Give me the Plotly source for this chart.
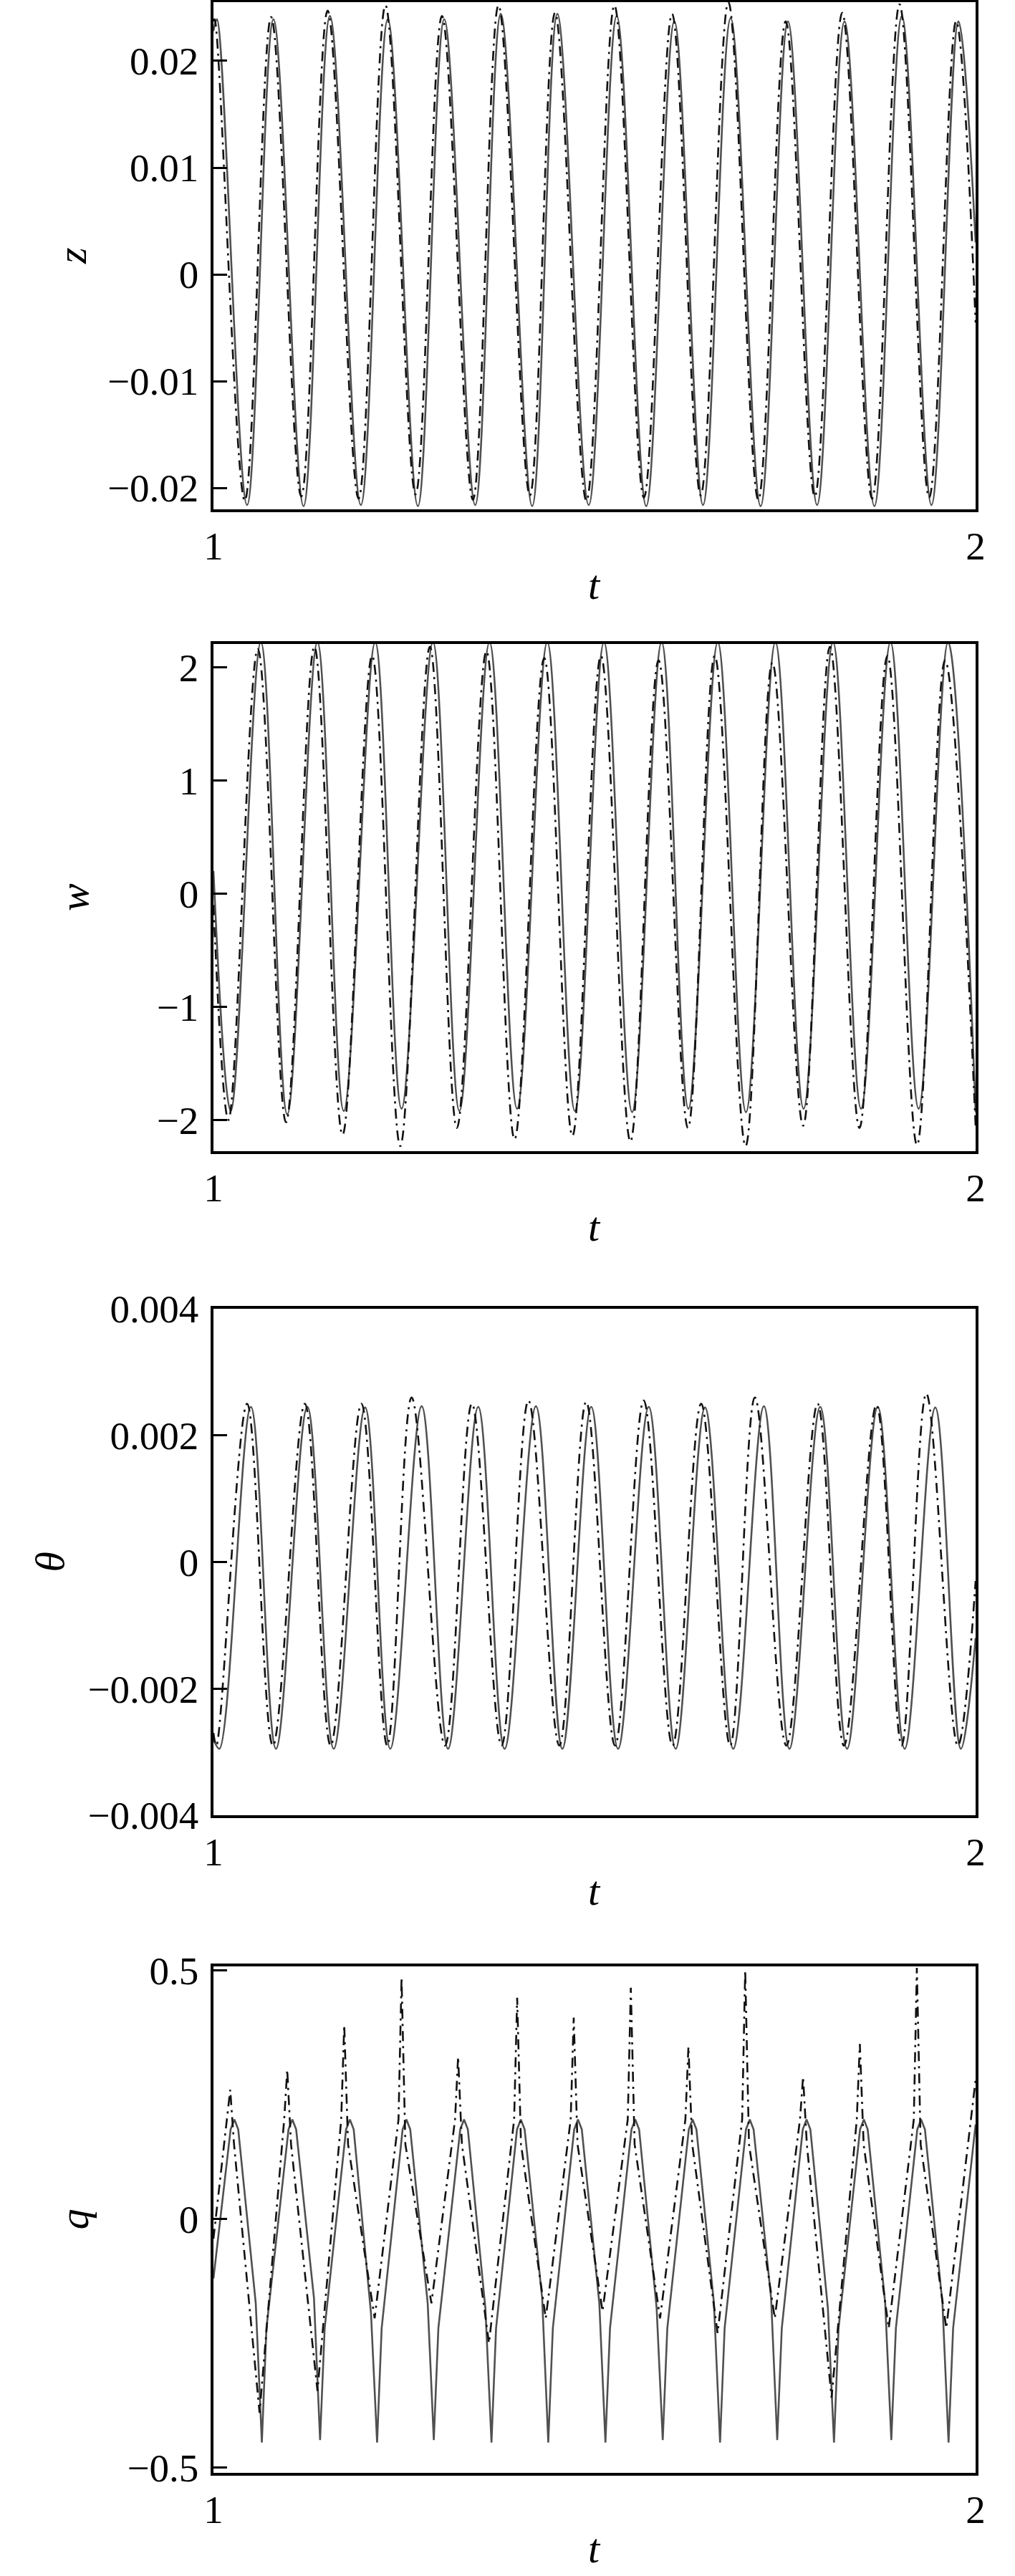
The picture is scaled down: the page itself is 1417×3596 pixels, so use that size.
import plotly.graph_objects as go

# ---------------- data ----------------
# panel 1 : z
z_solid_t = [1.0, 1.0045, 1.0441, 1.0787, 1.1182, 1.1528, 1.1934, 1.2287, 1.2682, 1.3028,
             1.3434, 1.3770, 1.4182, 1.4512, 1.4924, 1.5291, 1.5678, 1.6047, 1.6423, 1.6786,
             1.7179, 1.7538, 1.7920, 1.8280, 1.8672, 1.9032, 1.9421, 1.9774, 2.0]
z_solid = [0.0228, 0.0239, -0.0216, 0.0239, -0.0217, 0.0242, -0.0216, 0.0239, -0.0217, 0.0239,
           -0.0216, 0.0244, -0.0217, 0.0244, -0.0216, 0.0242, -0.0217, 0.0237, -0.0216, 0.0240,
           -0.0217, 0.0237, -0.0216, 0.0237, -0.0217, 0.0242, -0.0216, 0.0237, 0.0030]
z_dash_t = [1.0, 1.0015, 1.0411, 1.0757, 1.1152, 1.1498, 1.1904, 1.2257, 1.2652, 1.2998,
            1.3404, 1.3740, 1.4152, 1.4482, 1.4894, 1.5261, 1.5648, 1.6017, 1.6393, 1.6756,
            1.7149, 1.7508, 1.7890, 1.8250, 1.8642, 1.9002, 1.9391, 1.9744, 2.0]
z_dash = [0.0237, 0.0239, -0.0212, 0.0241, -0.0208, 0.0247, -0.0210, 0.0252, -0.0206, 0.0242,
          -0.0211, 0.0252, -0.0207, 0.0245, -0.0212, 0.0252, -0.0209, 0.0244, -0.0207, 0.0255,
          -0.0211, 0.0237, -0.0208, 0.0245, -0.0210, 0.0253, -0.0209, 0.0237, -0.0045]

# panel 2 : w
w_solid_t = [1.0, 1.0227, 1.0622, 1.0968, 1.1364, 1.1710, 1.2122, 1.2468, 1.2880, 1.3227,
             1.3622, 1.3984, 1.4380, 1.4742, 1.5124, 1.5493, 1.5880, 1.6232, 1.6617, 1.6987,
             1.7373, 1.7743, 1.8129, 1.8497, 1.8883, 1.9253, 1.9639, 2.0]
w_solid = [0.20, -1.92, 2.22, -1.95, 2.22, -1.92, 2.22, -1.90, 2.22, -1.92,
           2.22, -1.90, 2.22, -1.92, 2.22, -1.93, 2.22, -1.90, 2.22, -1.93,
           2.22, -1.90, 2.22, -1.90, 2.22, -1.90, 2.22, -1.93]
w_dash_t = [1.0, 1.0197, 1.0582, 1.0952, 1.1324, 1.1694, 1.2082, 1.2451, 1.2840, 1.3194,
            1.3582, 1.3951, 1.4340, 1.4710, 1.5084, 1.5471, 1.5840, 1.6226, 1.6577, 1.6982,
            1.7333, 1.7737, 1.8089, 1.8476, 1.8843, 1.9231, 1.9599, 2.0]
w_dash = [-0.10, -2.00, 2.16, -2.02, 2.18, -2.13, 2.10, -2.23, 2.18, -2.07,
          2.14, -2.17, 2.08, -2.14, 2.10, -2.19, 2.06, -2.07, 2.10, -2.23,
          2.04, -2.05, 2.18, -2.07, 2.10, -2.22, 2.06, -2.05]

# panel 3 : theta
th_solid_t = [1.0, 1.0078, 1.0491, 1.0820, 1.1232, 1.1578, 1.1990, 1.2320, 1.2732, 1.3078,
              1.3474, 1.3820, 1.4231, 1.4578, 1.4957, 1.5309, 1.5711, 1.6064, 1.6450, 1.6820,
              1.7222, 1.7557, 1.7961, 1.8313, 1.8716, 1.9069, 1.9471, 1.9806, 2.0]
th_solid = [-0.0028, -0.00295, 0.00245, -0.00295, 0.00245, -0.00295, 0.00244, -0.00295, 0.00246, -0.00295,
            0.00245, -0.00295, 0.00246, -0.00295, 0.00245, -0.00295, 0.00245, -0.00295, 0.00244, -0.00295,
            0.00246, -0.00295, 0.00245, -0.00295, 0.00245, -0.00295, 0.00244, -0.00295, -0.0012]
th_dash_t = [1.0, 1.0038, 1.0441, 1.0780, 1.1199, 1.1538, 1.1941, 1.2280, 1.2600, 1.3038,
             1.3391, 1.3780, 1.4133, 1.4538, 1.4890, 1.5269, 1.5645, 1.6024, 1.6399, 1.6780,
             1.7104, 1.7517, 1.7927, 1.8273, 1.8699, 1.9029, 1.9353, 1.9766, 2.0]
th_dash = [-0.0027, -0.0029, 0.0025, -0.0029, 0.0025, -0.0029, 0.0025, -0.0029, 0.0026, -0.0029,
           0.0025, -0.0029, 0.00255, -0.0029, 0.00253, -0.0029, 0.00255, -0.0029, 0.0025, -0.0029,
           0.0026, -0.0029, 0.0025, -0.0029, 0.00248, -0.0029, 0.00266, -0.0029, -0.0003]

# panel 4 : q
q_solid_t = [1.0,
             1.0225, 1.0275, 1.0325, 1.0555, 1.0635, 1.0695,
             1.0985, 1.1035, 1.1085, 1.1319, 1.1399, 1.1459,
             1.1740, 1.1790, 1.1840, 1.2067, 1.2147, 1.2207,
             1.2482, 1.2532, 1.2582, 1.2811, 1.2891, 1.2951,
             1.3238, 1.3288, 1.3338, 1.3568, 1.3648, 1.3708,
             1.3983, 1.4033, 1.4083, 1.4313, 1.4393, 1.4453,
             1.4733, 1.4783, 1.4833, 1.5063, 1.5143, 1.5203,
             1.5485, 1.5535, 1.5585, 1.5815, 1.5895, 1.5955,
             1.6237, 1.6287, 1.6337, 1.6567, 1.6647, 1.6707,
             1.6987, 1.7037, 1.7087, 1.7317, 1.7397, 1.7457,
             1.7732, 1.7782, 1.7832, 1.8062, 1.8142, 1.8202,
             1.8484, 1.8534, 1.8584, 1.8814, 1.8894, 1.8954,
             1.9235, 1.9285, 1.9335, 1.9565, 1.9645, 1.9705,
             2.0]
q_solid = [-0.12,
           0.180, 0.200, 0.180, -0.17, -0.450, -0.22,
           0.180, 0.200, 0.180, -0.16, -0.445, -0.22,
           0.180, 0.200, 0.180, -0.19, -0.450, -0.22,
           0.180, 0.200, 0.180, -0.17, -0.445, -0.22,
           0.180, 0.200, 0.180, -0.18, -0.450, -0.22,
           0.180, 0.200, 0.180, -0.16, -0.450, -0.22,
           0.180, 0.200, 0.180, -0.17, -0.450, -0.22,
           0.180, 0.200, 0.180, -0.18, -0.445, -0.22,
           0.180, 0.200, 0.180, -0.17, -0.450, -0.22,
           0.180, 0.200, 0.180, -0.16, -0.445, -0.22,
           0.180, 0.200, 0.180, -0.18, -0.450, -0.22,
           0.180, 0.200, 0.180, -0.17, -0.445, -0.22,
           0.180, 0.200, 0.180, -0.17, -0.450, -0.22,
           0.19]
q_dash_t = [1.0,
            1.0180, 1.0220, 1.0270, 1.0605,
            1.0928, 1.0968, 1.1018, 1.1365,
            1.1676, 1.1716, 1.1766, 1.2115,
            1.2428, 1.2468, 1.2518, 1.2860,
            1.3170, 1.3210, 1.3260, 1.3615,
            1.3945, 1.3985, 1.4035, 1.4360,
            1.4687, 1.4727, 1.4777, 1.5105,
            1.5436, 1.5476, 1.5526, 1.5860,
            1.6192, 1.6232, 1.6282, 1.6615,
            1.6937, 1.6977, 1.7027, 1.7365,
            1.7696, 1.7736, 1.7786, 1.8110,
            1.8441, 1.8481, 1.8531, 1.8860,
            1.9189, 1.9229, 1.9279, 1.9615,
            2.0]
q_dash = [-0.04,
          0.20, 0.260, 0.15, -0.390,
          0.20, 0.300, 0.15, -0.346,
          0.20, 0.390, 0.15, -0.200,
          0.20, 0.485, 0.15, -0.170,
          0.20, 0.326, 0.15, -0.250,
          0.20, 0.445, 0.15, -0.200,
          0.20, 0.405, 0.15, -0.186,
          0.20, 0.465, 0.15, -0.200,
          0.20, 0.346, 0.15, -0.230,
          0.20, 0.500, 0.15, -0.200,
          0.20, 0.286, 0.15, -0.360,
          0.20, 0.352, 0.15, -0.220,
          0.20, 0.505, 0.15, -0.220,
          0.28]

# axis settings
y_names = ["z", "w", "θ", "q"]
y_ranges = [[-0.0220, 0.0255], [-2.275, 2.204], [-0.004, 0.004], [-0.511, 0.508]]
y_tickvals = [[-0.02, -0.01, 0, 0.01, 0.02], [-2, -1, 0, 1, 2],
              [-0.004, -0.002, 0, 0.002, 0.004], [-0.5, 0, 0.5]]
y_ticktext = [["\u22120.02", "\u22120.01", "0", "0.01", "0.02"],
              ["\u22122", "\u22121", "0", "1", "2"],
              ["\u22120.004", "\u22120.002", "0", "0.002", "0.004"],
              ["\u22120.5", "0", "0.5"]]
x_tickvals = [1, 2]
x_ticktext = ["1", "2"]

# ---------------- layout geometry (pixels) ----------------
W, H = 1417, 3596
ML, MR, MT, MB = 298, 55, 3, 144
panel_px = [(3, 711), (899, 1607), (1827, 2534), (2745, 3452)]
ytitle_px = [100, 103, 69, 103]
PH = H - MT - MB
PW = W - ML - MR

FONT = "Liberation Serif, Times New Roman, serif"
SOLID_COLOR = "#505050"
DASH_COLOR = "#111111"

series = [
    (z_solid_t, z_solid, z_dash_t, z_dash, "spline"),
    (w_solid_t, w_solid, w_dash_t, w_dash, "spline"),
    (th_solid_t, th_solid, th_dash_t, th_dash, "spline"),
    (q_solid_t, q_solid, q_dash_t, q_dash, "linear"),
]

fig = go.Figure()
annotations = []
layout_axes = {}
for i, (st, sv, dt, dv, shape) in enumerate(series):
    n = i + 1
    xa = "x" if n == 1 else f"x{n}"
    ya = "y" if n == 1 else f"y{n}"
    fig.add_trace(go.Scatter(x=st, y=sv, mode="lines", xaxis=xa, yaxis=ya,
                             line=dict(color=SOLID_COLOR, width=2.6, shape=shape),
                             showlegend=False, name=y_names[i] + " (solid)"))
    fig.add_trace(go.Scatter(x=dt, y=dv, mode="lines", xaxis=xa, yaxis=ya,
                             line=dict(color=DASH_COLOR, width=2.6, shape=shape,
                                       dash="14px,7px,3px,7px"),
                             showlegend=False, name=y_names[i] + " (dash-dot)"))
    top, bot = panel_px[i]
    dom = [1 - (bot - MT) / PH, 1 - (top - MT) / PH]
    xkey = "xaxis" if n == 1 else f"xaxis{n}"
    ykey = "yaxis" if n == 1 else f"yaxis{n}"
    layout_axes[xkey] = dict(
        domain=[0, 1], anchor=ya, range=[1, 2], tickmode="array",
        tickvals=x_tickvals, ticktext=x_ticktext, ticks="",
        showline=True, mirror=True, linecolor="black", linewidth=3.5,
        showgrid=False, zeroline=False, ticklabelstandoff=0,
        tickfont=dict(family=FONT, size=55, color="black"))
    layout_axes[ykey] = dict(
        domain=dom, anchor=xa, range=y_ranges[i], tickmode="array",
        tickvals=y_tickvals[i], ticktext=y_ticktext[i],
        ticks="inside", ticklen=19, tickwidth=3, tickcolor="black",
        showline=True, mirror=True, linecolor="black", linewidth=3.5,
        showgrid=False, zeroline=False, ticklabelstandoff=6,
        tickfont=dict(family=FONT, size=55, color="black"))
    annotations.append(dict(
        text=y_names[i], xref="paper", x=(ytitle_px[i] - ML) / PW, xanchor="center",
        yref=f"{ya} domain", y=0.5, yanchor="middle", textangle=-90, showarrow=False,
        font=dict(family=FONT, size=58, color="black", style="italic")))
    annotations.append(dict(
        text="t", xref="paper", x=0.5, xanchor="center",
        yref=f"{ya} domain", y=0, yanchor="middle", yshift=-105, showarrow=False,
        font=dict(family=FONT, size=58, color="black", style="italic")))

fig.update_layout(
    width=W, height=H,
    margin=dict(l=ML, r=MR, t=MT, b=MB, autoexpand=False),
    paper_bgcolor="white", plot_bgcolor="white",
    template="none",
    annotations=annotations,
    **layout_axes,
)

fig.write_html("out.html", config={"displayModeBar": False},
               post_script="document.body.style.margin='0px';")
